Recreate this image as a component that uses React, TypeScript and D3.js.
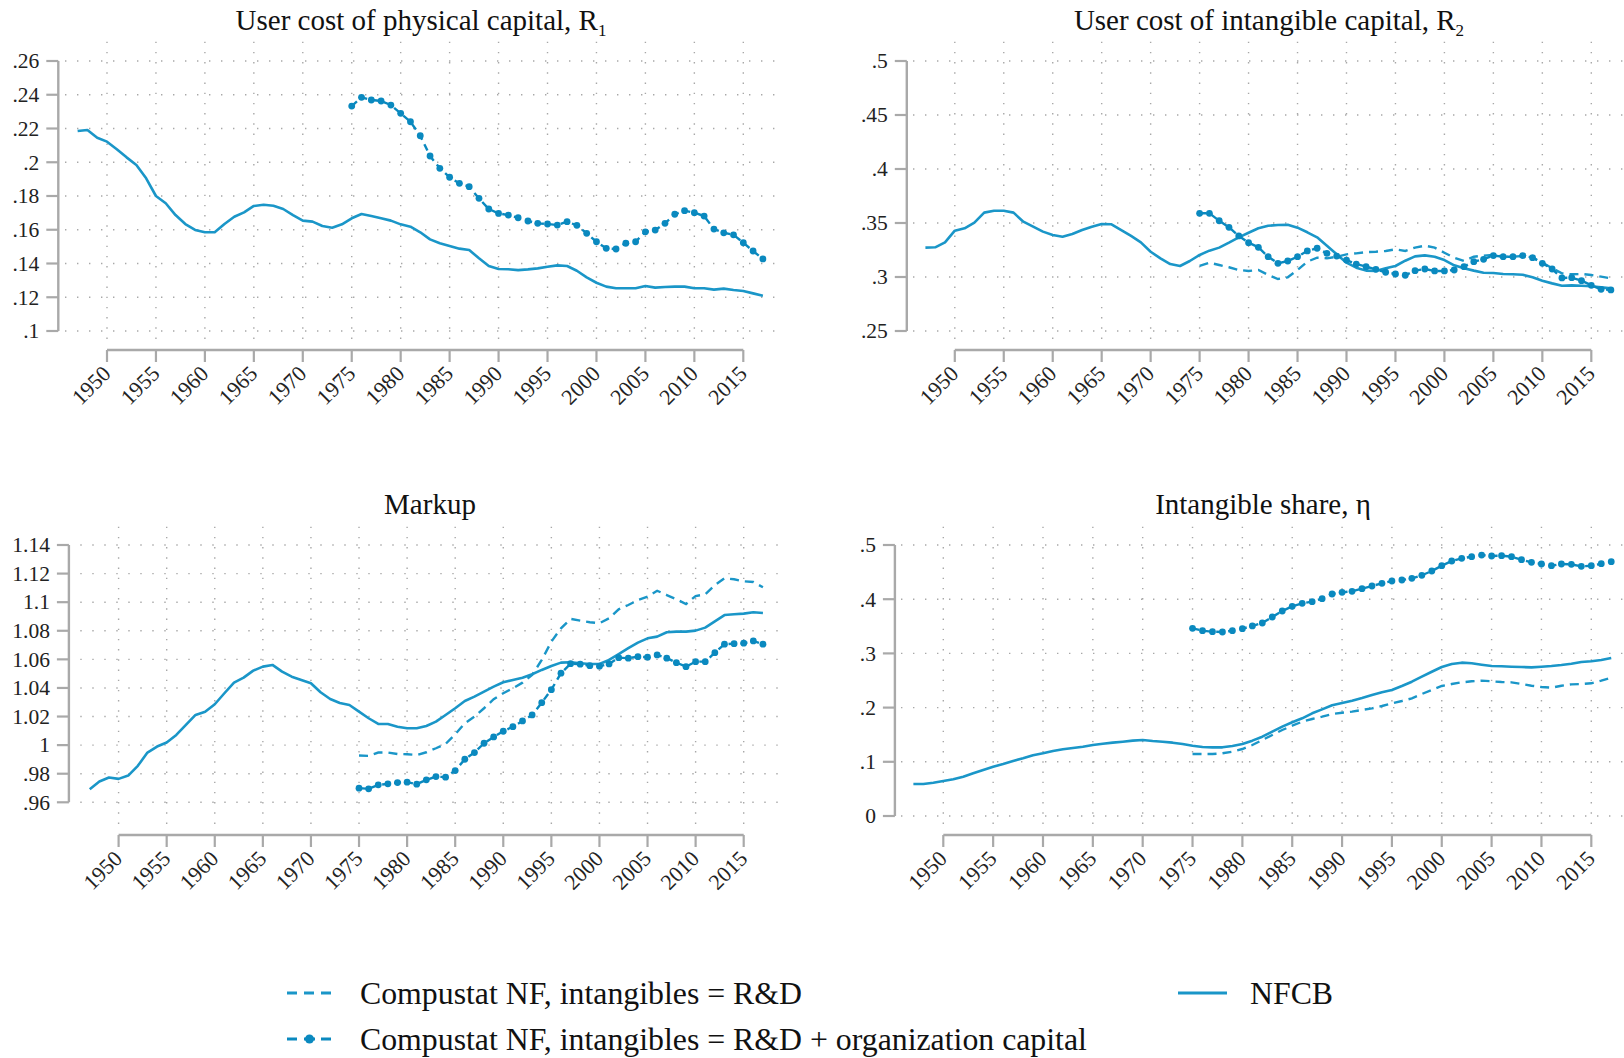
import * as d3 from 'd3';

// years on the x axis
const YEARS_NFCB = [
  1947, 1948, 1949, 1950, 1951, 1952, 1953, 1954, 1955, 1956,
  1957, 1958, 1959, 1960, 1961, 1962, 1963, 1964, 1965, 1966,
  1967, 1968, 1969, 1970, 1971, 1972, 1973, 1974, 1975, 1976,
  1977, 1978, 1979, 1980, 1981, 1982, 1983, 1984, 1985, 1986,
  1987, 1988, 1989, 1990, 1991, 1992, 1993, 1994, 1995, 1996,
  1997, 1998, 1999, 2000, 2001, 2002, 2003, 2004, 2005, 2006,
  2007, 2008, 2009, 2010, 2011, 2012, 2013, 2014, 2015, 2016,
  2017,
];
const YEARS_CS = [
  1975, 1976, 1977, 1978, 1979, 1980, 1981, 1982, 1983, 1984,
  1985, 1986, 1987, 1988, 1989, 1990, 1991, 1992, 1993, 1994,
  1995, 1996, 1997, 1998, 1999, 2000, 2001, 2002, 2003, 2004,
  2005, 2006, 2007, 2008, 2009, 2010, 2011, 2012, 2013, 2014,
  2015, 2016, 2017,
];
const X_TICKS = [1950, 1955, 1960, 1965, 1970, 1975, 1980, 1985, 1990, 1995, 2000, 2005, 2010, 2015];

// User cost of physical capital, R1
const r1Nfcb = [
  0.2185, 0.2191, 0.2145, 0.2122, 0.2077, 0.2029, 0.1984, 0.1905, 0.18, 0.1757,
  0.1687, 0.1634, 0.1599, 0.1585, 0.1585, 0.1634, 0.1677, 0.1703, 0.1741, 0.1748,
  0.1742, 0.1723, 0.1687, 0.1654, 0.1648, 0.1622, 0.1612, 0.1632, 0.1668, 0.1693,
  0.1681, 0.1668, 0.1654, 0.1632, 0.1618, 0.1585, 0.1543, 0.152, 0.1504, 0.1488,
  0.148, 0.1431, 0.1385, 0.1367, 0.1366, 0.1361, 0.1365, 0.1371, 0.1381, 0.1389,
  0.1385, 0.1357, 0.1318, 0.1286, 0.1263, 0.1253, 0.1253, 0.1253, 0.1267, 0.1257,
  0.1261, 0.1263, 0.1263, 0.1253, 0.1253, 0.1245, 0.1251, 0.1243, 0.1237, 0.1223,
  0.1209,
];
const r1Org = [
  0.2333, 0.2385, 0.2369, 0.2363, 0.2339, 0.229, 0.224, 0.2157, 0.2037, 0.1964,
  0.1911, 0.1875, 0.1855, 0.1786, 0.1723, 0.1697, 0.1687, 0.1671, 0.1652, 0.1638,
  0.1634, 0.1628, 0.1648, 0.1626, 0.1579, 0.1529, 0.149, 0.1486, 0.152, 0.1529,
  0.1588, 0.1598, 0.1638, 0.1692, 0.1713, 0.1701, 0.1681, 0.1604, 0.1582, 0.157,
  0.1523, 0.1474, 0.1427,
];
const r1Ticks = [0.1, 0.12, 0.14, 0.16, 0.18, 0.2, 0.22, 0.24, 0.26];

// User cost of intangible capital, R2
const r2Nfcb = [
  0.3272, 0.3275, 0.3321, 0.3429, 0.3451, 0.3503, 0.3596, 0.3614, 0.3614, 0.3596,
  0.3512, 0.3466, 0.342, 0.3389, 0.3373, 0.3398, 0.3435, 0.3466, 0.3491, 0.3488,
  0.3435, 0.338, 0.3321, 0.3234, 0.3173, 0.312, 0.3102, 0.3148, 0.3204, 0.3244,
  0.3272, 0.3318, 0.3367, 0.341, 0.3451, 0.3475, 0.3481, 0.3484, 0.3457, 0.3414,
  0.3367, 0.329, 0.321, 0.3133, 0.3086, 0.3059, 0.3056, 0.3081, 0.3102, 0.3151,
  0.3191, 0.32, 0.3188, 0.3157, 0.3108, 0.3081, 0.3059, 0.304, 0.3037, 0.3028,
  0.3025, 0.3021, 0.2997, 0.2966, 0.2941, 0.2919, 0.2922, 0.2919, 0.2914, 0.2904,
  0.2895,
];
const r2Rd = [
  0.3102, 0.3133, 0.3111, 0.309, 0.3065, 0.3056, 0.3065, 0.3019, 0.2981, 0.2997,
  0.3065, 0.3142, 0.3179, 0.3173, 0.3188, 0.321, 0.3219, 0.3231, 0.3234, 0.3241,
  0.3256, 0.3241, 0.3272, 0.329, 0.3272, 0.3225, 0.3179, 0.3148, 0.3188, 0.3198,
  0.3204, 0.3188, 0.3188, 0.3194, 0.3182, 0.3133, 0.3081, 0.3034, 0.3025, 0.3028,
  0.3019, 0.3003, 0.2988,
];
const r2Org = [
  0.359, 0.359, 0.3521, 0.346, 0.338, 0.3318, 0.3275, 0.3188, 0.3127, 0.3148,
  0.3188, 0.3241, 0.3266, 0.3219, 0.3194, 0.3157, 0.312, 0.3096, 0.3071, 0.3044,
  0.3028, 0.3016, 0.3059, 0.3074, 0.3056, 0.3056, 0.3065, 0.3096, 0.3142, 0.3164,
  0.3198, 0.3188, 0.3188, 0.3198, 0.3179, 0.3127, 0.3074, 0.2991, 0.2994, 0.2966,
  0.2923, 0.2886, 0.288,
];
const r2Ticks = [0.25, 0.3, 0.35, 0.4, 0.45, 0.5];

// Markup
const markupNfcb = [
  0.9692, 0.9745, 0.9773, 0.9764, 0.9787, 0.9855, 0.9948, 0.999, 1.0018, 1.0071,
  1.0141, 1.0211, 1.0234, 1.0286, 1.0363, 1.0437, 1.0472, 1.0521, 1.0549, 1.0561,
  1.0514, 1.0479, 1.0456, 1.0433, 1.037, 1.0323, 1.0295, 1.0281, 1.0234, 1.0188,
  1.0148, 1.0148, 1.0129, 1.0118, 1.0118, 1.0134, 1.0164, 1.0211, 1.0258, 1.0309,
  1.0339, 1.0374, 1.0409, 1.044, 1.0456, 1.0472, 1.0496, 1.0526, 1.0554, 1.0577,
  1.058, 1.0573, 1.0568, 1.0568, 1.0596, 1.0636, 1.0678, 1.0717, 1.0747, 1.0759,
  1.079, 1.0794, 1.0794, 1.0801, 1.0822, 1.0866, 1.091, 1.0915, 1.092, 1.0929,
  1.0924,
];
const markupRd = [
  0.9927, 0.9925, 0.9948, 0.9948, 0.9938, 0.9936, 0.9931, 0.995, 0.9978, 1.0008,
  1.0076, 1.0153, 1.0199, 1.0258, 1.0321, 1.0363, 1.0398, 1.0437, 1.0491, 1.0596,
  1.0724, 1.0817, 1.0883, 1.0871, 1.086, 1.0853, 1.0887, 1.095, 1.098, 1.1015,
  1.1038, 1.108, 1.105, 1.102, 1.0987, 1.1043, 1.1055, 1.112, 1.1167, 1.116,
  1.1146, 1.1141, 1.1104,
];
const markupOrg = [
  0.9699, 0.9694, 0.9722, 0.9729, 0.9738, 0.9741, 0.9727, 0.9757, 0.978, 0.9776,
  0.9822, 0.9901, 0.9948, 1.0013, 1.0057, 1.0097, 1.0129, 1.0169, 1.0211, 1.0297,
  1.0388, 1.0503, 1.057, 1.0566, 1.0556, 1.0552, 1.0568, 1.0612, 1.0608, 1.0619,
  1.0615, 1.0631, 1.0608, 1.0577, 1.0549, 1.0584, 1.0584, 1.0647, 1.0706, 1.071,
  1.0713, 1.0729, 1.0706,
];
const markupTicks = [0.96, 0.98, 1, 1.02, 1.04, 1.06, 1.08, 1.1, 1.12, 1.14];

// Intangible share, eta
const etaNfcb = [
  0.059, 0.059, 0.0615, 0.0646, 0.0677, 0.0726, 0.0788, 0.0849, 0.091, 0.096,
  0.1015, 0.1064, 0.112, 0.1157, 0.1199, 0.1231, 0.1255, 0.1279, 0.131, 0.1334,
  0.1353, 0.1371, 0.139, 0.1402, 0.1384, 0.1371, 0.1353, 0.1328, 0.1297, 0.1273,
  0.1267, 0.1267, 0.1292, 0.1328, 0.139, 0.1463, 0.1556, 0.1648, 0.1729, 0.1802,
  0.1895, 0.1968, 0.2042, 0.2085, 0.2127, 0.2177, 0.2232, 0.2282, 0.2325, 0.2399,
  0.2478, 0.257, 0.2662, 0.2749, 0.2804, 0.2829, 0.2817, 0.2792, 0.2768, 0.2762,
  0.2755, 0.2749, 0.2743, 0.2755, 0.2768, 0.2786, 0.281, 0.2841, 0.2854, 0.2878,
  0.2915,
];
const etaRd = [
  0.1144, 0.1144, 0.1144, 0.1157, 0.1187, 0.1236, 0.131, 0.1402, 0.1494, 0.1587,
  0.1666, 0.174, 0.179, 0.1832, 0.1882, 0.1906, 0.1925, 0.1956, 0.1986, 0.2029,
  0.2079, 0.2122, 0.2171, 0.2251, 0.2325, 0.2399, 0.2435, 0.2466, 0.2485, 0.2497,
  0.2485, 0.2472, 0.2466, 0.2435, 0.2404, 0.238, 0.2368, 0.2404, 0.2429, 0.2435,
  0.2448, 0.2497, 0.2552,
];
const etaOrg = [
  0.3463, 0.3419, 0.34, 0.3395, 0.3419, 0.3456, 0.3506, 0.3561, 0.3672, 0.3782,
  0.3869, 0.3924, 0.3954, 0.401, 0.4096, 0.4127, 0.4146, 0.4194, 0.4244, 0.4293,
  0.4336, 0.4354, 0.4385, 0.4441, 0.452, 0.4618, 0.4705, 0.4754, 0.4784, 0.4815,
  0.4797, 0.4803, 0.4784, 0.4729, 0.468, 0.4649, 0.4618, 0.4649, 0.4643, 0.4606,
  0.4618, 0.4655, 0.4692,
];
const etaTicks = [0, 0.1, 0.2, 0.3, 0.4, 0.5];

const LEGEND_RD = 'Compustat NF, intangibles = R&D';
const LEGEND_ORG = 'Compustat NF, intangibles = R&D + organization capital';
const LEGEND_NFCB = 'NFCB';

const LINE = '#1a96c8';
const DOT = '#0a89bf';
const AXIS = '#a9a9a9';
const GRID = '#a8a8a8';
const FONT = '"Liberation Serif", "Times New Roman", serif';

interface Panel {
  title: string;
  sub?: string;
  nfcb: number[];
  rd?: number[];
  org: number[];
  yTicks: number[];
  axisX: number;
  axisY: number;
  xRange: [number, number];
  yRange: [number, number];
  grid: { x0: number; x1: number; y0: number; y1: number };
  titleX: number;
  titleY: number;
}

const PANELS: Panel[] = [
  {
    title: 'User cost of physical capital, R', sub: '1',
    nfcb: r1Nfcb, org: r1Org, yTicks: r1Ticks,
    axisX: 58.3, axisY: 350, xRange: [107, 743.3], yRange: [331, 61],
    grid: { x0: 65, x1: 777, y0: 41.7, y1: 341.7 }, titleX: 421, titleY: 29.5,
  },
  {
    title: 'User cost of intangible capital, R', sub: '2',
    nfcb: r2Nfcb, rd: r2Rd, org: r2Org, yTicks: r2Ticks,
    axisX: 906.8, axisY: 350, xRange: [954.8, 1591.3], yRange: [331, 61],
    grid: { x0: 913, x1: 1625, y0: 41.7, y1: 341.7 }, titleX: 1269, titleY: 29.5,
  },
  {
    title: 'Markup',
    nfcb: markupNfcb, rd: markupRd, org: markupOrg, yTicks: markupTicks,
    axisX: 68.9, axisY: 835, xRange: [118.6, 743.7], yRange: [802.3, 545],
    grid: { x0: 80.3, x1: 779.4, y0: 526.7, y1: 826.7 }, titleX: 430, titleY: 514,
  },
  {
    title: 'Intangible share, η',
    nfcb: etaNfcb, rd: etaRd, org: etaOrg, yTicks: etaTicks,
    axisX: 894.9, axisY: 835, xRange: [943.3, 1591.3], yRange: [816, 545],
    grid: { x0: 901, x1: 1625, y0: 526.7, y1: 826.7 }, titleX: 1263, titleY: 514,
  },
];

// stata-ish labels: .25 instead of 0.25
const fmt = (v: number) => String(+v.toFixed(2)).replace(/^0\./, '.');

function ChartPanel({ p }: { p: Panel }) {
  const x = d3.scaleLinear().domain([1950, 2015]).range(p.xRange);
  const yMin = p.yTicks[0];
  const yMax = p.yTicks[p.yTicks.length - 1];
  const y = d3.scaleLinear().domain([yMin, yMax]).range(p.yRange);

  const line = d3
    .line<[number, number]>()
    .x((d) => x(d[0]))
    .y((d) => y(d[1]));

  const nfcbPts = YEARS_NFCB.map((yr, i) => [yr, p.nfcb[i]] as [number, number]);
  const orgPts = YEARS_CS.map((yr, i) => [yr, p.org[i]] as [number, number]);
  const rdPts = p.rd ? YEARS_CS.map((yr, i) => [yr, p.rd![i]] as [number, number]) : null;

  const tick = 12;

  return (
    <g>
      {/* grid */}
      {p.yTicks.map((t) => (
        <line key={'hg' + t} x1={p.grid.x0} x2={p.grid.x1} y1={y(t)} y2={y(t)}
          stroke={GRID} strokeWidth={1.4} strokeDasharray="1.4,10.6" />
      ))}
      {X_TICKS.map((t) => (
        <line key={'vg' + t} x1={x(t)} x2={x(t)} y1={p.grid.y0} y2={p.grid.y1}
          stroke={GRID} strokeWidth={1.4} strokeDasharray="1.4,8.8" />
      ))}

      {/* y axis */}
      <line x1={p.axisX} x2={p.axisX} y1={y(yMin)} y2={y(yMax)} stroke={AXIS} strokeWidth={2.4} />
      {p.yTicks.map((t) => (
        <g key={'yt' + t}>
          <line x1={p.axisX - tick} x2={p.axisX} y1={y(t)} y2={y(t)} stroke={AXIS} strokeWidth={2.2} />
          <text x={p.axisX - tick - 7} y={y(t)} dy="0.34em" textAnchor="end"
            fontSize={21.5} fill="#222" fontFamily={FONT}>{fmt(t)}</text>
        </g>
      ))}

      {/* x axis */}
      <line x1={x(1950)} x2={x(2015)} y1={p.axisY} y2={p.axisY} stroke={AXIS} strokeWidth={2.4} />
      {X_TICKS.map((t) => (
        <g key={'xt' + t}>
          <line x1={x(t)} x2={x(t)} y1={p.axisY} y2={p.axisY + tick} stroke={AXIS} strokeWidth={2.2} />
          <text transform={`translate(${x(t) + 5},${p.axisY + 25}) rotate(-45)`} textAnchor="end"
            fontSize={22} fill="#222" fontFamily={FONT}>{t}</text>
        </g>
      ))}

      {/* series */}
      <path d={line(nfcbPts) ?? ''} fill="none" stroke={LINE} strokeWidth={2.6} strokeLinejoin="round" />
      {rdPts && (
        <path d={line(rdPts) ?? ''} fill="none" stroke={LINE} strokeWidth={2.4} strokeDasharray="9,6" />
      )}
      <path d={line(orgPts) ?? ''} fill="none" stroke={DOT} strokeWidth={2.4} strokeDasharray="7,5" />
      {orgPts.map((d) => (
        <circle key={'m' + d[0]} cx={x(d[0])} cy={y(d[1])} r={3.4} fill={DOT} />
      ))}

      {/* title */}
      <text x={p.titleX} y={p.titleY} textAnchor="middle" fontSize={29} fill="#111" fontFamily={FONT}>
        {p.title}
        {p.sub && <tspan fontSize={17} dy={6}>{p.sub}</tspan>}
      </text>
    </g>
  );
}

function Legend() {
  const row1 = 993;
  const row2 = 1039;
  const txt = { fontSize: 31.8, fill: '#111', fontFamily: FONT };
  return (
    <g>
      <line x1={287} x2={331} y1={row1} y2={row1} stroke={LINE} strokeWidth={3} strokeDasharray="10,7" />
      <text x={360} y={row1 + 10.5} {...txt}>{LEGEND_RD}</text>

      <line x1={287} x2={297} y1={row2} y2={row2} stroke={DOT} strokeWidth={3} />
      <line x1={304} x2={315} y1={row2} y2={row2} stroke={DOT} strokeWidth={3} />
      <line x1={321} x2={331} y1={row2} y2={row2} stroke={DOT} strokeWidth={3} />
      <circle cx={309.5} cy={row2} r={4.5} fill={DOT} />
      <text x={360} y={row2 + 10.5} {...txt}>{LEGEND_ORG}</text>

      <line x1={1178} x2={1227} y1={row1} y2={row1} stroke={LINE} strokeWidth={3} />
      <text x={1250} y={row1 + 10.5} {...txt}>{LEGEND_NFCB}</text>
    </g>
  );
}

export default function App() {
  return (
    <svg width={1624} height={1058}
      style={{ position: 'absolute', left: 0, top: 0, background: '#fff', display: 'block' }}>
      <rect width={1624} height={1058} fill="#fff" />
      {PANELS.map((p) => (
        <ChartPanel key={p.title} p={p} />
      ))}
      <Legend />
    </svg>
  );
}
